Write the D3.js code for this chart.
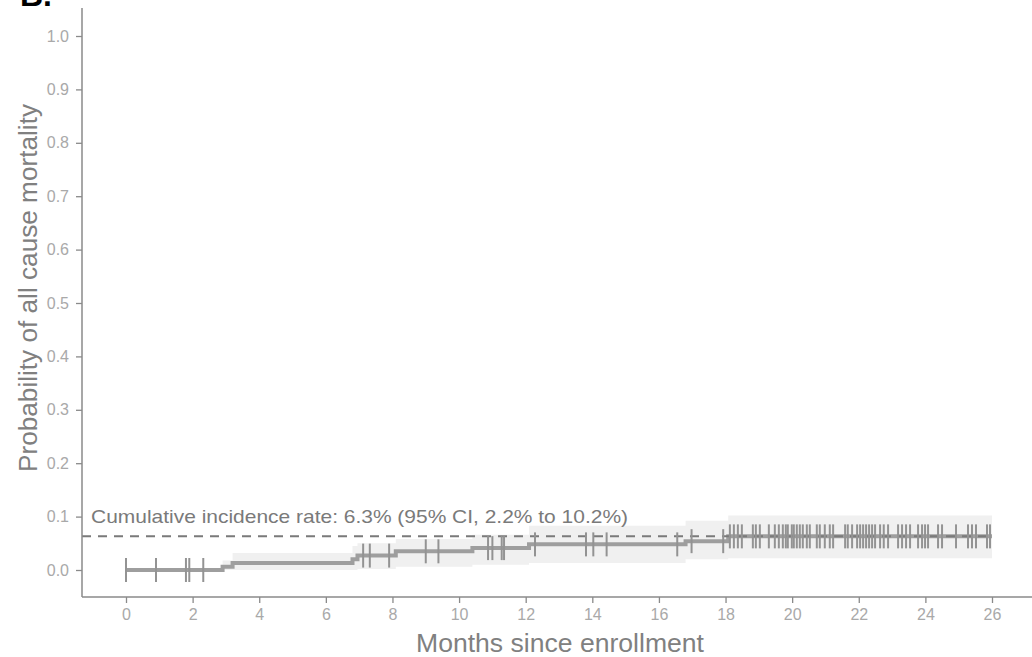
<!DOCTYPE html>
<html><head><meta charset="utf-8">
<script src="https://cdn.jsdelivr.net/npm/d3@7"></script>
<style>
html,body{margin:0;padding:0;background:#fff;}
svg{display:block;font-family:"Liberation Sans",Arial,sans-serif;}
</style></head>
<body>
<svg id="chart" width="1032" height="657"></svg>
<script>
// ---- data ----
const eventTimes = [0, 2.9, 3.2, 6.8, 6.95, 8.1, 10.4, 12.1, 16.8, 18.08];
const cumInc     = [0, 0.006, 0.013, 0.020, 0.027, 0.035, 0.041, 0.048, 0.054, 0.063];
const ciLower    = [0, 0, 0, 0, 0.002, 0.006, 0.010, 0.013, 0.020, 0.022];
const ciUpper    = [0, 0.018, 0.032, 0.045, 0.050, 0.058, 0.066, 0.083, 0.092, 0.102];
const endTime = 26;
const censorTimes = [0, 0.9, 1.8, 1.9, 2.32, 7.12, 7.32, 7.9, 9.0, 9.38, 10.87, 11.0, 11.28, 11.35, 12.28,
  13.81, 14.03, 14.43, 16.55, 16.98, 17.93, 18.13, 18.25, 18.37, 18.49, 18.82, 18.91, 19.03, 19.30,
  19.48, 19.60, 19.72, 19.81, 19.87, 19.99, 20.05, 20.14, 20.23, 20.32, 20.44, 20.53, 20.74, 20.83,
  20.98, 21.13, 21.23, 21.59, 21.67, 21.80, 21.95, 22.04, 22.13, 22.22, 22.31, 22.40, 22.49, 22.64,
  22.75, 22.88, 23.18, 23.30, 23.42, 23.54, 23.78, 23.90, 23.99, 24.08, 24.38, 24.50, 24.92, 25.28,
  25.40, 25.52, 25.85, 25.94];
const finalRate = 0.063;
const xTicks = [0, 2, 4, 6, 8, 10, 12, 14, 16, 18, 20, 22, 24, 26];
const yTicks = [0, 0.1, 0.2, 0.3, 0.4, 0.5, 0.6, 0.7, 0.8, 0.9, 1.0];
const annotation = "Cumulative incidence rate: 6.3% (95% CI, 2.2% to 10.2%)";
const xLabel = "Months since enrollment";
const yLabel = "Probability of all cause mortality";
const panelLabel = "B.";

// ---- layout ----
const svg = d3.select("#chart");
const x = d3.scaleLinear().domain([0, 26]).range([126, 992]);
const y = d3.scaleLinear().domain([0, 1]).range([570, 36]);
const axisLeftX = 82, axisBottomY = 597;

const stepData = eventTimes.map((t, i) => ({t, v: cumInc[i], lo: ciLower[i], hi: ciUpper[i]}));
stepData.push({t: endTime, v: cumInc[cumInc.length-1], lo: ciLower[ciLower.length-1], hi: ciUpper[ciUpper.length-1]});

function valueAt(t){
  let v = 0;
  for (let i = 0; i < eventTimes.length; i++) if (eventTimes[i] <= t) v = cumInc[i];
  return v;
}

// confidence band
svg.append("path")
  .datum(stepData)
  .attr("fill", "#f0f0f0")
  .attr("d", d3.area().curve(d3.curveStepAfter)
    .x(d => x(d.t)).y0(d => y(d.lo)).y1(d => y(d.hi)));

// step curve
svg.append("path")
  .datum(stepData)
  .attr("fill", "none")
  .attr("stroke", "#9e9e9e")
  .attr("stroke-width", 4)
  .attr("d", d3.line().curve(d3.curveStepAfter).x(d => x(d.t)).y(d => y(d.v)));

// dashed reference line
svg.append("line")
  .attr("x1", axisLeftX).attr("x2", x(endTime))
  .attr("y1", y(finalRate)).attr("y2", y(finalRate))
  .attr("stroke", "#7a7a7a").attr("stroke-width", 2)
  .attr("stroke-dasharray", "9,7");

// censor marks
svg.append("g").selectAll("line").data(censorTimes).join("line")
  .attr("x1", d => x(d)).attr("x2", d => x(d))
  .attr("y1", d => y(valueAt(d)) - 12).attr("y2", d => y(valueAt(d)) + 12)
  .attr("stroke", "#939393").attr("stroke-width", 2);

// annotation
svg.append("text")
  .attr("x", 91).attr("y", 523)
  .attr("fill", "#7a7a7a")
  .style("font-size", "18.5px")
  .attr("textLength", 537).attr("lengthAdjust", "spacingAndGlyphs")
  .text(annotation);

// axes
const xAxis = svg.append("g").attr("transform", `translate(0,${axisBottomY})`)
  .call(d3.axisBottom(x).tickValues(xTicks).tickSize(6).tickPadding(6).tickFormat(d3.format("d")));
const yAxis = svg.append("g").attr("transform", `translate(${axisLeftX},0)`)
  .call(d3.axisLeft(y).tickValues(yTicks).tickSize(6).tickPadding(7).tickFormat(d3.format(".1f")));
[xAxis, yAxis].forEach(g => {
  g.select(".domain").remove();
  g.selectAll(".tick line").attr("stroke", "#8a8a8a").attr("stroke-width", 1.3);
  g.selectAll(".tick text").attr("fill", "#a9a9a9").style("font-size", "16px");
});
svg.append("line").attr("x1", axisLeftX).attr("x2", 1032)
  .attr("y1", axisBottomY).attr("y2", axisBottomY)
  .attr("stroke", "#8a8a8a").attr("stroke-width", 1.5);
svg.append("line").attr("x1", axisLeftX).attr("x2", axisLeftX)
  .attr("y1", 8).attr("y2", axisBottomY)
  .attr("stroke", "#8a8a8a").attr("stroke-width", 1.5);

// axis titles
svg.append("text")
  .attr("x", 560).attr("y", 652).attr("text-anchor", "middle")
  .attr("fill", "#808080").style("font-size", "26px")
  .attr("textLength", 288).attr("lengthAdjust", "spacingAndGlyphs")
  .text(xLabel);
svg.append("text")
  .attr("transform", "translate(37,288) rotate(-90)").attr("text-anchor", "middle")
  .attr("fill", "#808080").style("font-size", "25px")
  .attr("textLength", 368).attr("lengthAdjust", "spacingAndGlyphs")
  .text(yLabel);

// panel label
svg.append("text").attr("x", 20).attr("y", 6)
  .attr("fill", "#000").style("font-size", "32px").style("font-weight", "bold")
  .text(panelLabel);
</script>
</body></html>
